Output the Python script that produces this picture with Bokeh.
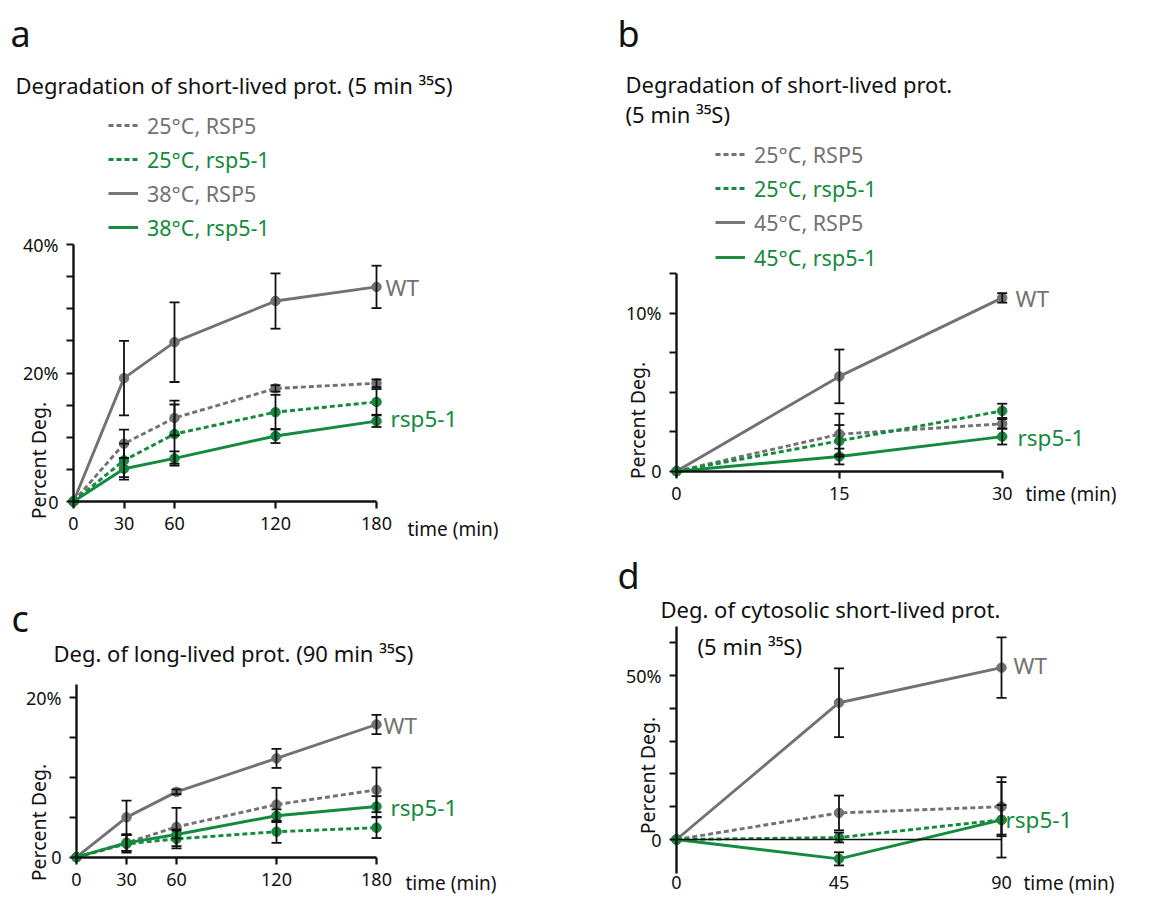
import numpy as np
from bokeh.plotting import figure
from bokeh.models import (LinearAxis, FixedTicker, Label, Whisker, TeeHead,
                          ColumnDataSource, Legend, LegendItem, Range1d)
from bokeh.layouts import column, row
from bokeh.embed import file_html
from bokeh.resources import INLINE
from bokeh.core.properties import value

FONT = "Noto Sans"
GRAY = "#727272"
GREEN = "#138a3d"
BLACK = "#111111"

# ---------------- data ----------------
# panel a : short-lived proteins (5 min 35S), 25 / 38 °C
a_time = [0, 30, 60, 120, 180]
a_rsp5_25 = [0, 9.0, 13.0, 17.6, 18.4]
a_rsp5_25_err = [0, 2.2, 2.7, 0.5, 0.6]
a_rsp51_25 = [0, 6.4, 10.5, 13.9, 15.5]
a_rsp51_25_err = [0, 2.6, 4.6, 2.7, 2.0]
a_rsp5_38 = [0, 19.2, 24.8, 31.2, 33.4]
a_rsp5_38_err = [0, 5.8, 6.2, 4.3, 3.3]
a_rsp51_38 = [0, 5.1, 6.7, 10.2, 12.5]
a_rsp51_38_err = [0, 1.7, 1.1, 1.1, 0.9]

# panel b : short-lived proteins, 25 / 45 °C
b_time = [0, 15, 30]
b_rsp5_25 = [0, 2.34, 3.0]
b_rsp5_25_err = [0, 1.3, 0.3]
b_rsp51_25 = [0, 1.92, 3.82]
b_rsp51_25_err = [0, 1.0, 0.45]
b_rsp5_45 = [0, 6.0, 10.97]
b_rsp5_45_err = [0, 1.7, 0.3]
b_rsp51_45 = [0, 0.93, 2.19]
b_rsp51_45_err = [0, 0.5, 0.5]

# panel c : long-lived proteins (90 min 35S)
c_time = [0, 30, 60, 120, 180]
c_rsp5_25 = [0, 1.8, 3.8, 6.6, 8.45]
c_rsp5_25_err = [0, 1.0, 2.4, 2.1, 2.8]
c_rsp51_25 = [0, 1.67, 2.3, 3.2, 3.7]
c_rsp51_25_err = [0, 1.1, 1.2, 1.4, 1.3]
c_rsp5_38 = [0, 5.0, 8.2, 12.4, 16.65]
c_rsp5_38_err = [0, 2.1, 0.3, 1.2, 1.2]
c_rsp51_38 = [0, 1.8, 2.85, 5.2, 6.36]
c_rsp51_38_err = [0, 1.0, 0.5, 0.8, 1.3]

# panel d : cytosolic short-lived proteins
d_time = [0, 45, 90]
d_rsp5_25 = [0, 8.1, 10.0]
d_rsp5_25_err = [0, 5.3, 9.0]
d_rsp51_25 = [0, 0.6, 6.0]
d_rsp51_25_err = [0, 1.5, 11.5]
d_rsp5_45 = [0, 41.7, 52.4]
d_rsp5_45_err = [0, 10.5, 9.2]
d_rsp51_45 = [0, -5.9, 6.0]
d_rsp51_45_err = [0, 2.0, 4.5]

legend_a = ["25°C, RSP5", "25°C, rsp5-1", "38°C, RSP5", "38°C, rsp5-1"]
legend_b = ["25°C, RSP5", "25°C, rsp5-1", "45°C, RSP5", "45°C, rsp5-1"]

a_ylabeled = [0, 20, 40]
a_yminor = [5, 10, 15, 25, 30, 35]
a_ylabels = {0: "0", 20: "20%", 40: "40%"}
b_ylabeled = [0, 10]
b_yminor = [2.5, 5, 7.5, 12.5]
b_ylabels = {0: "0", 10: "10%"}
c_ylabeled = [0, 20]
c_yminor = [5, 10, 15]
c_ylabels = {0: "0", 20: "20%"}
d_ylabeled = [0, 50]
d_yminor = [10, 20, 30, 40, 60]
d_ylabels = {0: "0", 50: "50%"}

STYLES = [(GRAY, "5 3"), (GREEN, "5 3"), (GRAY, "solid"), (GREEN, "solid")]


class Panel:
    def __init__(self, left, top, width, height, xanch, yanch):
        self.left, self.top, self.w, self.h = left, top, width, height
        xv1, xp1, xv2, xp2 = xanch
        yv1, yp1, yv2, yp2 = yanch
        kx = (xp2 - xp1) / (xv2 - xv1)
        ky = (yp2 - yp1) / (yv2 - yv1)
        self.X = lambda px: xv1 + (px - xp1) / kx
        self.Y = lambda py: yv1 + (py - yp1) / ky
        p = figure(width=width, height=height,
                   x_range=Range1d(self.X(left), self.X(left + width)),
                   y_range=Range1d(self.Y(top + height), self.Y(top)),
                   output_backend="svg", toolbar_location=None,
                   x_axis_location=None, y_axis_location=None, title=None)
        p.min_border_left = p.min_border_right = 0
        p.min_border_top = p.min_border_bottom = 0
        p.outline_line_color = None
        for g in p.grid:
            g.visible = False
        self.p = p

    def axes(self, xticks, xbounds, yticks, yminor, ybounds, ylabels,
             x_standoff, x_ticks=True):
        ya = LinearAxis(fixed_location=0, bounds=ybounds,
                        ticker=FixedTicker(ticks=yticks, minor_ticks=yminor),
                        major_label_overrides=ylabels)
        xa = LinearAxis(fixed_location=0, bounds=xbounds,
                        ticker=FixedTicker(ticks=xticks, minor_ticks=[]))
        for ax in (ya, xa):
            ax.axis_line_width = 2.4
            ax.axis_line_color = BLACK
            ax.major_tick_line_width = 2.2
            ax.major_tick_line_color = BLACK
            ax.major_tick_out = 7
            ax.major_tick_in = 0
            ax.minor_tick_line_width = 2.2
            ax.minor_tick_line_color = BLACK
            ax.minor_tick_out = 7
            ax.minor_tick_in = 0
            ax.major_label_text_font = FONT
            ax.major_label_text_font_size = "18px"
            ax.major_label_text_color = BLACK
        ya.major_label_standoff = 8
        xa.major_label_standoff = x_standoff
        xa.minor_tick_line_color = None
        if not x_ticks:
            xa.major_tick_line_color = None
            xa.major_tick_out = 0
            xa.axis_line_width = 1.6
        self.p.add_layout(ya, "left")
        self.p.add_layout(xa, "below")

    def series(self, t, vals, errs):
        rends = []
        for (color, dash), v in zip(STYLES, vals):
            r = self.p.line(t, v, line_color=color, line_width=2.9,
                            line_dash=dash)
            rends.append(r)
        for v, e in zip(vals, errs):
            keep = [i for i in range(len(t)) if e[i] > 0]
            src = ColumnDataSource(dict(
                x=[t[i] for i in keep],
                upper=[v[i] + e[i] for i in keep],
                lower=[v[i] - e[i] for i in keep]))
            w = Whisker(base="x", upper="upper", lower="lower", source=src,
                        line_color=BLACK, line_width=1.8, level="glyph",
                        upper_head=TeeHead(size=10, line_width=1.8,
                                           line_color=BLACK),
                        lower_head=TeeHead(size=10, line_width=1.8,
                                           line_color=BLACK))
            self.p.add_layout(w)
        for (color, dash), v in zip(STYLES, vals):
            self.p.scatter(t, v, size=9.5, color=color)
        return rends

    def text(self, px, py, txt, size, color=BLACK, align="left",
             baseline="middle", angle=0.0):
        self.p.add_layout(Label(x=self.X(px), y=self.Y(py), text=txt,
                                text_font=FONT, text_font_size=f"{size}px",
                                text_color=color, text_align=align,
                                text_baseline=baseline, angle=angle))

    def legend(self, rends, labels, px_left, centers):
        for r, lab, cy, (color, _) in zip(rends, labels, centers, STYLES):
            leg = Legend(items=[LegendItem(label=value(lab), renderers=[r])],
                         location=(px_left - self.left,
                                   self.top + self.h - cy - 15),
                         glyph_width=30, glyph_height=30, label_height=30,
                         label_standoff=9, padding=0, margin=0, spacing=0,
                         border_line_color=None, background_fill_alpha=0,
                         label_text_color=color, label_text_font=FONT,
                         label_text_font_size="21.5px",
                         label_text_baseline="middle")
            self.p.add_layout(leg)


TITLE = 22
TICKLAB = 19
LETTER = 36
TAG = 22.5

# ---------------- panel a ----------------
A = Panel(0, 0, 590, 540, (0, 73, 180, 376), (0, 501, 40, 244))
A.axes(a_time, (0, 180), a_ylabeled, a_yminor, (0, 40), a_ylabels, 8)
ra = A.series(a_time, [a_rsp5_25, a_rsp51_25, a_rsp5_38, a_rsp51_38],
              [a_rsp5_25_err, a_rsp51_25_err, a_rsp5_38_err, a_rsp51_38_err])
A.text(10, 33, "a", LETTER, baseline="alphabetic")
A.text(15, 84, "Degradation of short-lived prot. (5 min ³⁵S)", TITLE,
       baseline="alphabetic")
A.legend(ra, legend_a, 108, [125, 159, 193, 227])
A.text(38, 460, "Percent Deg.", 19.5, align="center", angle=np.pi / 2)
A.text(385, 287, "WT", TAG, color=GRAY)
A.text(390, 418, "rsp5-1", TAG, color=GREEN)
A.text(407, 528, "time (min)", TICKLAB)

# ---------------- panel b ----------------
B = Panel(590, 0, 585, 540, (0, 676, 30, 1001.7), (0, 470.7, 10, 312.7))
B.axes(b_time, (0, 30), b_ylabeled, b_yminor, (0, 12.5), b_ylabels, 9)
rb = B.series(b_time, [b_rsp5_25, b_rsp51_25, b_rsp5_45, b_rsp51_45],
              [b_rsp5_25_err, b_rsp51_25_err, b_rsp5_45_err, b_rsp51_45_err])
B.text(617, 33, "b", LETTER, baseline="alphabetic")
B.text(625, 83, "Degradation of short-lived prot.", TITLE, baseline="alphabetic")
B.text(625, 113, "(5 min ³⁵S)", TITLE, baseline="alphabetic")
B.legend(rb, legend_b, 715, [154, 188, 222, 257])
B.text(637, 420, "Percent Deg.", 19.5, align="center", angle=np.pi / 2)
B.text(1015, 298, "WT", TAG, color=GRAY)
B.text(1017, 437, "rsp5-1", TAG, color=GREEN)
B.text(1025, 493, "time (min)", TICKLAB)

# ---------------- panel c ----------------
C = Panel(0, 540, 590, 355, (0, 76, 180, 376), (0, 856.7, 20, 697.3))
C.axes(c_time, (0, 180), c_ylabeled, c_yminor, (0, 21.7), c_ylabels, 9)
C.series(c_time, [c_rsp5_25, c_rsp51_25, c_rsp5_38, c_rsp51_38],
         [c_rsp5_25_err, c_rsp51_25_err, c_rsp5_38_err, c_rsp51_38_err])
C.text(11, 618, "c", LETTER, baseline="alphabetic")
C.text(53, 652, "Deg. of long-lived prot. (90 min ³⁵S)", TITLE,
       baseline="alphabetic")
C.text(38, 822, "Percent Deg.", 19.5, align="center", angle=np.pi / 2)
C.text(383, 725, "WT", TAG, color=GRAY)
C.text(390, 807, "rsp5-1", TAG, color=GREEN)
C.text(405, 882, "time (min)", TICKLAB)

# ---------------- panel d ----------------
D = Panel(590, 540, 585, 355, (0, 676, 90, 1001), (0, 839, 50, 675))
D.axes(d_time, (0, 90), d_ylabeled, d_yminor, (-10.5, 65), d_ylabels, 36,
       x_ticks=False)
D.series(d_time, [d_rsp5_25, d_rsp51_25, d_rsp5_45, d_rsp51_45],
         [d_rsp5_25_err, d_rsp51_25_err, d_rsp5_45_err, d_rsp51_45_err])
D.text(617, 575, "d", LETTER, baseline="alphabetic")
D.text(660, 608, "Deg. of cytosolic short-lived prot.", TITLE,
       baseline="alphabetic")
D.text(697, 645, "(5 min ³⁵S)", TITLE, baseline="alphabetic")
D.text(647, 775, "Percent Deg.", 19.5, align="center", angle=np.pi / 2)
D.text(1013, 665, "WT", TAG, color=GRAY)
D.text(1005, 819, "rsp5-1", TAG, color=GREEN)
D.text(1023, 882, "time (min)", TICKLAB)

layout = column(row(A.p, B.p), row(C.p, D.p))
open("out.html", "w").write(file_html(layout, INLINE))
